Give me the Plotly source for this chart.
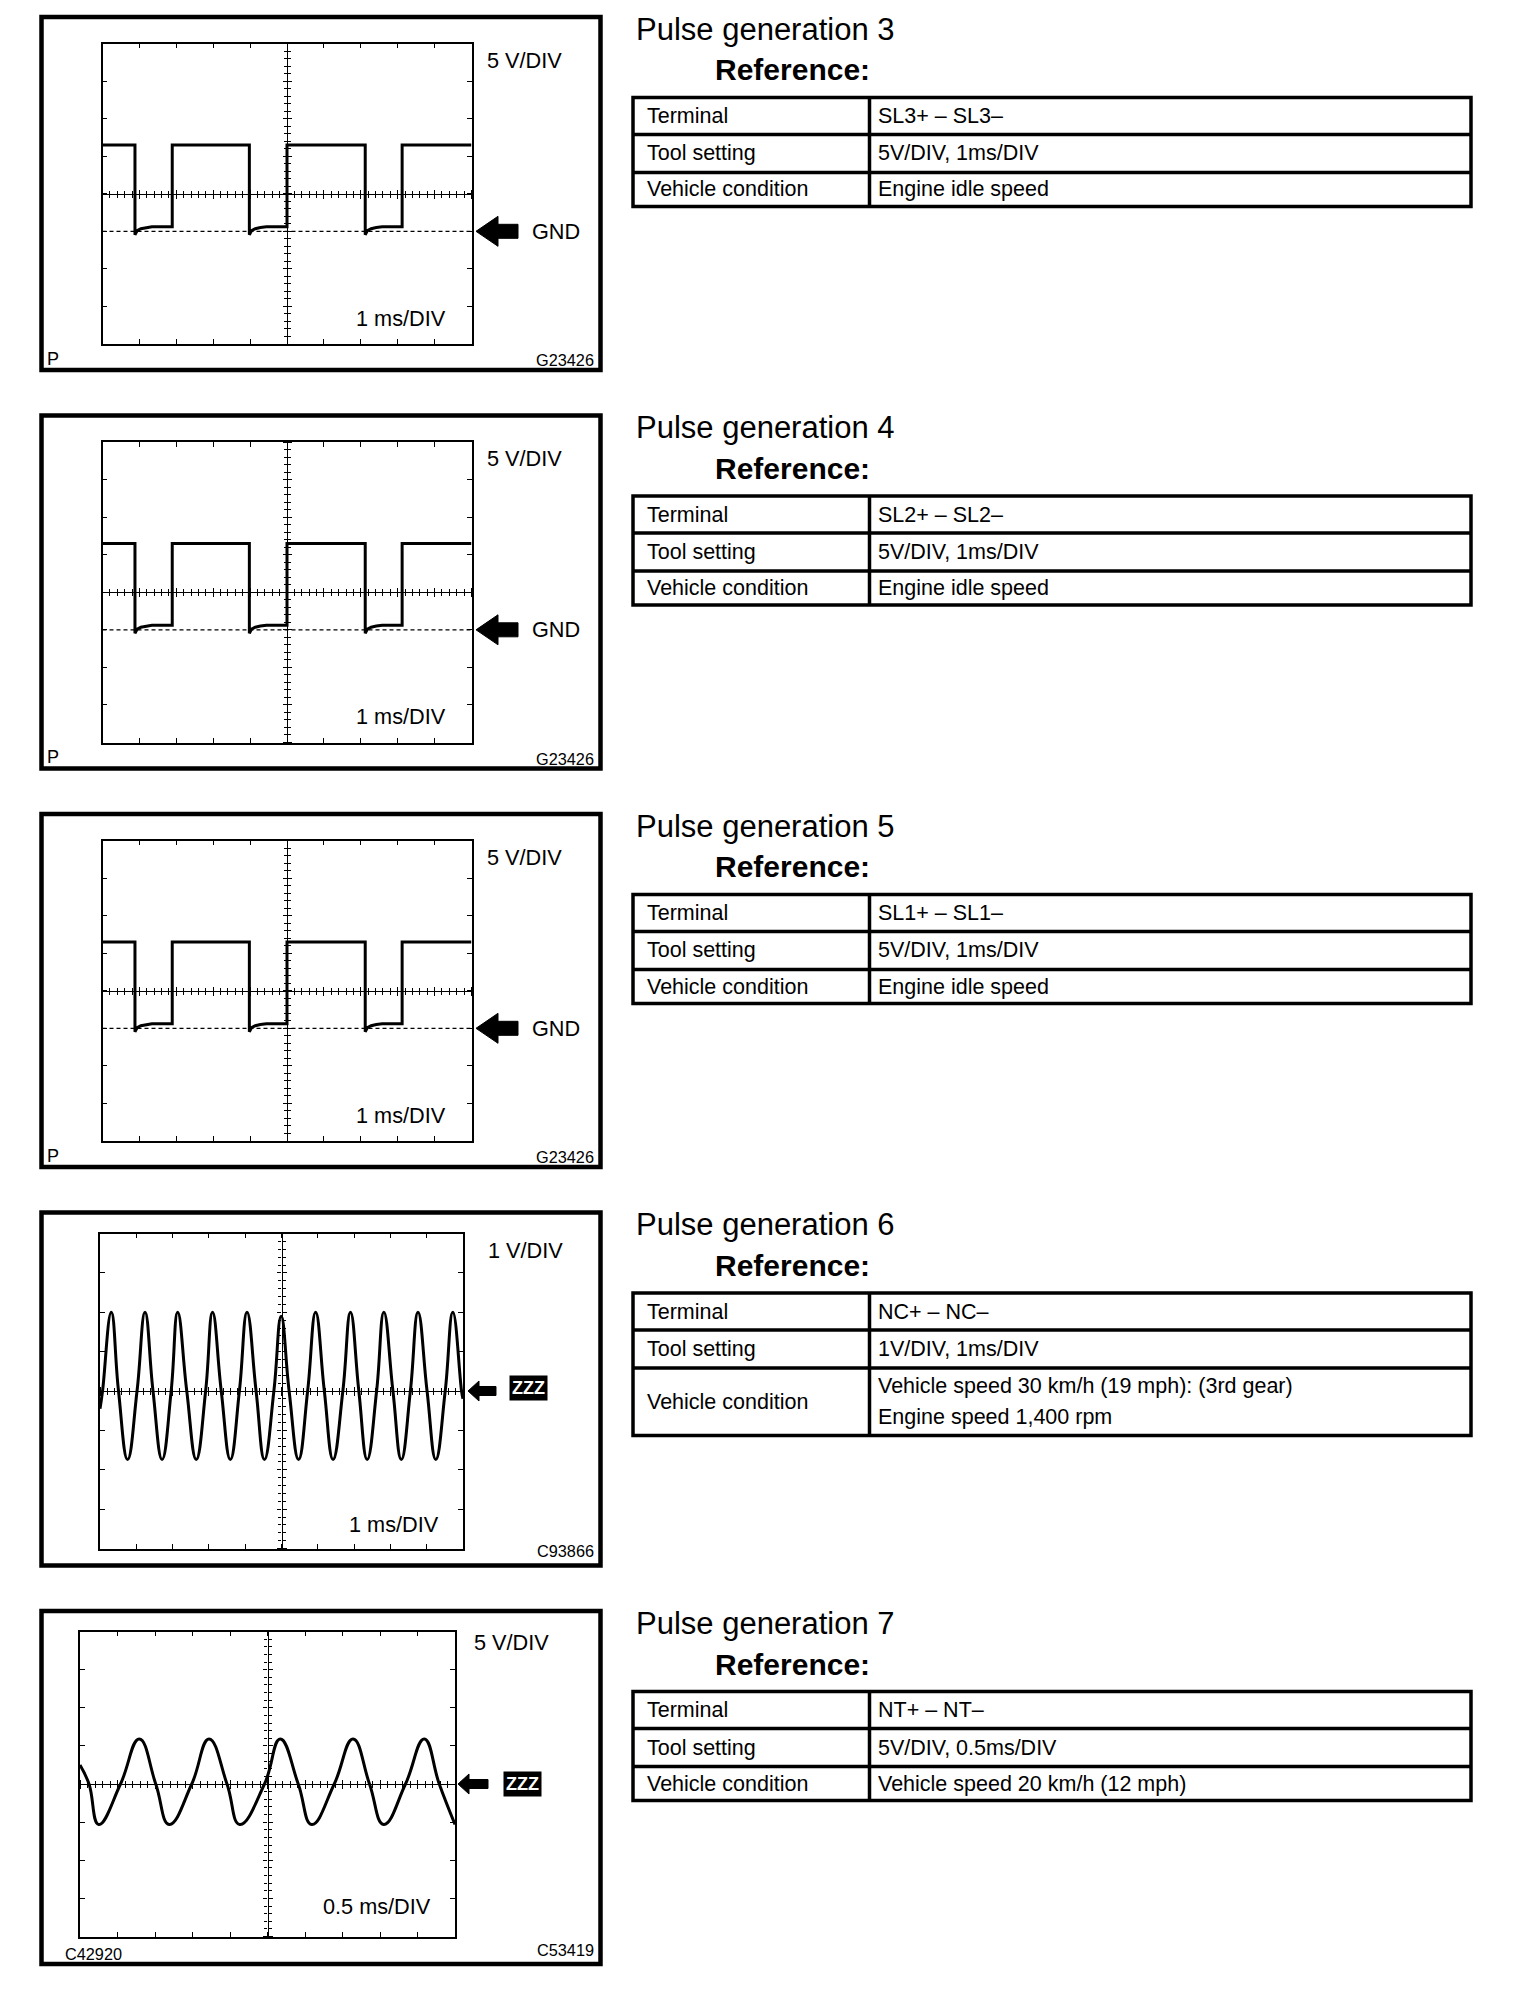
import plotly.graph_objects as go

W, H = 1520, 1996

# ---------------- data ----------------
TITLES = ["Pulse generation 3", "Pulse generation 4", "Pulse generation 5",
          "Pulse generation 6", "Pulse generation 7"]
SUBTITLE = "Reference:"
ROW_LABELS = ["Terminal", "Tool setting", "Vehicle condition"]
TERMINALS = ["SL3+ – SL3–", "SL2+ – SL2–", "SL1+ – SL1–", "NC+ – NC–", "NT+ – NT–"]
TOOL_SETTINGS = ["5V/DIV, 1ms/DIV", "5V/DIV, 1ms/DIV", "5V/DIV, 1ms/DIV",
                 "1V/DIV, 1ms/DIV", "5V/DIV, 0.5ms/DIV"]
VEHICLE_CONDITIONS = [["Engine idle speed"], ["Engine idle speed"], ["Engine idle speed"],
                      ["Vehicle speed 30 km/h (19 mph): (3rd gear)", "Engine speed 1,400 rpm"],
                      ["Vehicle speed 20 km/h (12 mph)"]]
VOLT_LABELS = ["5 V/DIV", "5 V/DIV", "5 V/DIV", "1 V/DIV", "5 V/DIV"]
TIME_LABELS = ["1 ms/DIV", "1 ms/DIV", "1 ms/DIV", "1 ms/DIV", "0.5 ms/DIV"]
REF_LABELS = ["GND", "GND", "GND", "ZZZ", "ZZZ"]
CODES_RIGHT = ["G23426", "G23426", "G23426", "C93866", "C53419"]
CODES_LEFT = ["P", "P", "P", "", "C42920"]

# Solenoid pulse (SL1/SL2/SL3): time ms, volts (GND = 0)
SQ_T = [0, 0.88, 0.88, 0.94, 1.04, 1.18, 1.34, 1.89, 1.89,
        3.98, 3.98, 4.04, 4.14, 4.28, 4.44, 5.0, 5.0,
        7.12, 7.12, 7.18, 7.28, 7.42, 7.58, 8.12, 8.12, 10.0]
SQ_V = [11.5, 11.5, -0.45, 0.1, 0.35, 0.5, 0.6, 0.6, 11.5,
        11.5, -0.45, 0.1, 0.35, 0.5, 0.6, 0.6, 11.5,
        11.5, -0.45, 0.1, 0.35, 0.5, 0.6, 0.6, 11.5, 11.5]

# NC sensor: time ms, volts (crossings, peaks, troughs)
NC_T = [0, 0.07, 0.31, 0.51, 0.76, 1.02, 1.24, 1.46, 1.71, 1.96, 2.14, 2.39, 2.65,
        2.91, 3.10, 3.34, 3.59, 3.84, 4.05, 4.30, 4.53, 4.79, 4.99, 5.21, 5.47,
        5.72, 5.94, 6.18, 6.42, 6.69, 6.90, 7.13, 7.36, 7.62, 7.82, 8.07, 8.30,
        8.55, 8.76, 9.01, 9.25, 9.51, 9.72, 9.96, 10.0]
NC_V = [-0.45, 0, 2.0, 0, -1.74, 0, 2.0, 0, -1.74, 0, 2.0, 0, -1.74,
        0, 2.0, 0, -1.74, 0, 2.0, 0, -1.74, 0, 1.9, 0, -1.74,
        0, 2.0, 0, -1.74, 0, 2.0, 0, -1.74, 0, 2.0, 0, -1.74,
        0, 2.0, 0, -1.74, 0, 2.0, 0, -0.2]

# NT sensor: time ms, volts
NT_T = [0, 0.12, 0.25, 0.54, 0.79, 1.01, 1.19, 1.49, 1.72, 1.96, 2.13, 2.46, 2.67,
        2.91, 3.09, 3.39, 3.64, 3.86, 4.05, 4.34, 4.59, 4.79, 5.0]
NT_V = [2.5, 0, -5.3, 0, 5.9, 0, -5.3, 0, 5.9, 0, -5.3, 0, 5.9,
        0, -5.3, 0, 5.9, 0, -5.3, 0, 5.9, 0, -5.3]

WAVES = [(SQ_T, SQ_V, "linear"), (SQ_T, SQ_V, "linear"), (SQ_T, SQ_V, "linear"),
         (NC_T, NC_V, "spline"), (NT_T, NT_V, "spline")]

# scope scales: x range, y range, major/minor ticks
SCALES = [
    dict(xr=[0, 10], yr=[-15, 25], xd=1, yd=5, xm=0.2, ym=1),
    dict(xr=[0, 10], yr=[-15, 25], xd=1, yd=5, xm=0.2, ym=1),
    dict(xr=[0, 10], yr=[-15, 25], xd=1, yd=5, xm=0.2, ym=1),
    dict(xr=[0, 10], yr=[-4, 4], xd=1, yd=1, xm=0.2, ym=0.2),
    dict(xr=[0, 5], yr=[-20, 20], xd=0.5, yd=5, xm=0.1, ym=1),
]

# ---------------- layout helpers ----------------
OFF = 8  # page body margin


def PX(x):
    return (x - OFF) / W


def PY(y):
    return 1 - (y - OFF) / H


FONT = "Liberation Sans, Arial, sans-serif"
fig = go.Figure()
shapes = []
annos = []
layout_axes = {}


def text(x, y, s, size, xanchor="left", bold=False, color="black", bg=None, pad=1):
    d = dict(x=PX(x), y=PY(y), xref="paper", yref="paper", text=("<b>%s</b>" % s) if bold else s,
             showarrow=False, xanchor=xanchor, yanchor="middle",
             font=dict(family=FONT, size=size, color=color), borderpad=pad)
    if bg:
        d["bgcolor"] = bg
    annos.append(d)


def line_px(x0, y0, x1, y1, w):
    shapes.append(dict(type="line", xref="paper", yref="paper", x0=PX(x0), y0=PY(y0),
                       x1=PX(x1), y1=PY(y1), line=dict(color="black", width=w)))


def arrow_px(xt, yc, hl, hh, sh, L):
    pts = [(xt, yc), (xt + hl, yc - hh), (xt + hl, yc - sh), (xt + L, yc - sh),
           (xt + L, yc + sh), (xt + hl, yc + sh), (xt + hl, yc + hh)]
    path = "M " + " L ".join("%.5f,%.5f" % (PX(a), PY(b)) for a, b in pts) + " Z"
    shapes.append(dict(type="path", xref="paper", yref="paper", path=path,
                       fillcolor="black", line=dict(color="black", width=1)))


def sfx(k):
    return "" if k == 1 else str(k)


GRIDS = [(102.5, 471.5, 28.5, 329), (102.5, 471.5, 28.5, 329), (102.5, 471.5, 28.5, 329),
         (100, 463, 23, 338), (80, 455, 22.5, 327.5)]

for i in range(5):
    T = 15 + 398.5 * i
    # outer frame
    shapes.append(dict(type="rect", xref="paper", yref="paper", x0=PX(41.5), x1=PX(600.5),
                       y0=PY(T + 2), y1=PY(T + 355), line=dict(color="black", width=4.5)))
    gx0, gx1, gy0r, gy1r = GRIDS[i]
    gy0, gy1 = T + gy0r, T + gy1r
    xdom = [PX(gx0), PX(gx1)]
    ydom = [PY(gy1), PY(gy0)]
    sc = SCALES[i]
    k = 3 * i + 1
    s0, s1, s2 = sfx(k), sfx(k + 1), sfx(k + 2)
    base_common = dict(showgrid=False, zeroline=False, showticklabels=False,
                       linecolor="black", tickcolor="black", fixedrange=True)
    layout_axes["xaxis" + s0] = dict(domain=xdom, range=sc["xr"], anchor="y" + s0, dtick=sc["xd"],
                                     tick0=0, showline=True, linewidth=1.5, mirror="ticks",
                                     ticks="inside", ticklen=5, tickwidth=1.2, **base_common)
    layout_axes["yaxis" + s0] = dict(domain=ydom, range=sc["yr"], anchor="x" + s0, dtick=sc["yd"],
                                     tick0=0, showline=True, linewidth=1.5, mirror="ticks",
                                     ticks="inside", ticklen=5, tickwidth=1.2, **base_common)
    ycen = (ydom[0] + ydom[1]) / 2
    xcen = (xdom[0] + xdom[1]) / 2
    for s, side, show in ((s1, "bottom", True), (s2, "top", False)):
        layout_axes["xaxis" + s] = dict(domain=xdom, range=sc["xr"], overlaying="x" + s0,
                                        anchor="free", position=ycen, side=side, showline=show,
                                        linewidth=1.2, ticks="outside", ticklen=4, tickwidth=1.2,
                                        dtick=sc["xd"], tick0=0,
                                        minor=dict(ticks="outside", ticklen=3, dtick=sc["xm"],
                                                   tick0=0, tickcolor="black", tickwidth=1),
                                        **base_common)
        fig.add_trace(go.Scatter(x=[], y=[], xaxis="x" + s, yaxis="y" + s0,
                                 showlegend=False, hoverinfo="skip"))
    for s, side, show in ((s1, "left", True), (s2, "right", False)):
        layout_axes["yaxis" + s] = dict(domain=ydom, range=sc["yr"], overlaying="y" + s0,
                                        anchor="free", position=xcen, side=side, showline=show,
                                        linewidth=1.2, ticks="outside", ticklen=4, tickwidth=1.2,
                                        dtick=sc["yd"], tick0=0,
                                        minor=dict(ticks="outside", ticklen=3, dtick=sc["ym"],
                                                   tick0=0, tickcolor="black", tickwidth=1),
                                        **base_common)
        fig.add_trace(go.Scatter(x=[], y=[], xaxis="x" + s0, yaxis="y" + s,
                                 showlegend=False, hoverinfo="skip"))

    # waveform
    wt, wv, shp = WAVES[i]
    fig.add_trace(go.Scatter(x=wt, y=wv, mode="lines", xaxis="x" + s0, yaxis="y" + s0,
                             line=dict(color="black", width=3, shape=shp, smoothing=1.3),
                             showlegend=False, hoverinfo="skip", cliponaxis=True))

    # scope texts
    if i < 3:
        # GND dashed reference
        shapes.append(dict(type="line", xref="x" + s0 + " domain", yref="y" + s0,
                           x0=0, x1=1, y0=0, y1=0,
                           line=dict(color="black", width=1.2, dash="4px,3px")))
        gnd_py = gy0 + (sc["yr"][1] - 0) / (sc["yr"][1] - sc["yr"][0]) * (gy1 - gy0)
        text(485, T + 45, VOLT_LABELS[i], 21.7)
        text(354, T + 303, TIME_LABELS[i], 21.7)
        arrow_px(476, gnd_py, 22, 15, 7, 42)
        text(530, gnd_py, REF_LABELS[i], 21.7)
        text(45, T + 344, CODES_LEFT[i], 18)
        text(596, T + 345, CODES_RIGHT[i], 16.3, xanchor="right")
    elif i == 3:
        cy = (gy0 + gy1) / 2
        text(486, T + 40, VOLT_LABELS[i], 21.7)
        text(347, T + 313.5, TIME_LABELS[i], 21.7)
        arrow_px(468, cy, 11, 10, 4.5, 28)
        text(528, cy - 3, REF_LABELS[i], 18, xanchor="center", bold=True, color="white",
             bg="black", pad=2)
        text(596, T + 340, CODES_RIGHT[i], 16.3, xanchor="right")
    else:
        cy = (gy0 + gy1) / 2
        text(472, T + 33.5, VOLT_LABELS[i], 21.7)
        text(321, T + 297.5, TIME_LABELS[i], 21.7)
        arrow_px(458, cy, 11, 10, 4.5, 30)
        text(522, cy, REF_LABELS[i], 18, xanchor="center", bold=True, color="white",
             bg="black", pad=2)
        text(63, T + 344.5, CODES_LEFT[i], 16.3)
        text(596, T + 340.5, CODES_RIGHT[i], 16.3, xanchor="right")

    # right side: titles + table
    text(634, T + 14, TITLES[i], 31)
    text(713, T + 55, SUBTITLE, 30, bold=True)
    tt = T + 82.5
    bottom = 142.5 if len(VEHICLE_CONDITIONS[i]) > 1 else 109
    rows = [0, 37, 75, bottom]
    shapes.append(dict(type="rect", xref="paper", yref="paper", x0=PX(633), x1=PX(1471),
                       y0=PY(tt), y1=PY(tt + bottom), line=dict(color="black", width=3.5)))
    line_px(633, tt + rows[1], 1471, tt + rows[1], 3.5)
    line_px(633, tt + rows[2], 1471, tt + rows[2], 3.5)
    line_px(869.5, tt, 869.5, tt + bottom, 3.5)
    values = [[TERMINALS[i]], [TOOL_SETTINGS[i]], VEHICLE_CONDITIONS[i]]
    for r in range(3):
        cyr = tt + (rows[r] + rows[r + 1]) / 2
        text(645, cyr, ROW_LABELS[r], 21.5)
        vals = values[r]
        if len(vals) == 1:
            text(876, cyr, vals[0], 21.5)
        else:
            text(876, cyr - 15.5, vals[0], 21.5)
            text(876, cyr + 15.5, vals[1], 21.5)

fig.update_layout(width=W, height=H, margin=dict(l=0, r=0, t=0, b=0),
                  paper_bgcolor="white", plot_bgcolor="white", showlegend=False,
                  font=dict(family=FONT, color="black"),
                  shapes=shapes, annotations=annos, **layout_axes)
fig.write_html("out.html")
